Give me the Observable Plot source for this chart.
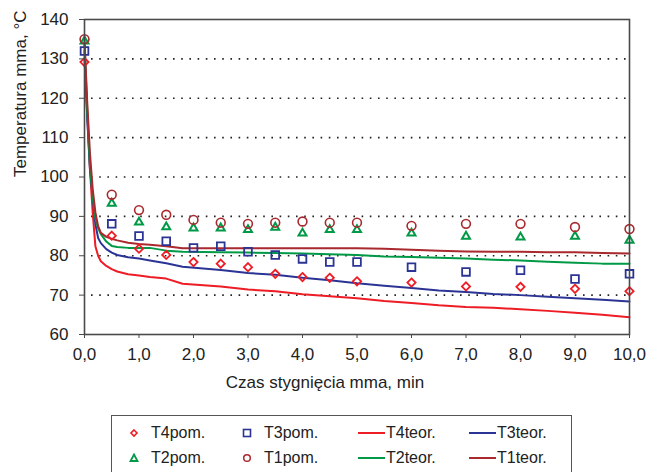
<!DOCTYPE html>
<html>
<head>
<meta charset="utf-8">
<script src="https://cdn.jsdelivr.net/npm/d3@7"></script>
<script src="https://cdn.jsdelivr.net/npm/@observablehq/plot@0.6"></script>
<style>
  html, body { margin: 0; padding: 0; background: #fff; overflow: hidden; }
  #wrap { position: relative; width: 651px; height: 472px; font-family: "Liberation Sans", Arial, sans-serif; }
  #legend { position: absolute; left: 111px; top: 415px; width: 461px; height: 80px; border: 1.3px solid #555; box-sizing: border-box; }
  .item { position: absolute; font-size: 16px; color: #222; display: flex; align-items: center; height: 20px; }
</style>
</head>
<body>
<div id="wrap"></div>
<script>
// Measured points (pom.)
const times = [0, 0.5, 1, 1.5, 2, 2.5, 3, 3.5, 4, 4.5, 5, 6, 7, 8, 9, 10];
const t1pom = [135, 95.5, 91.6, 90.4, 89.1, 88.4, 88.1, 88.4, 88.7, 88.4, 88.4, 87.6, 88.1, 88.1, 87.3, 86.8];
const t2pom = [134.5, 93.3, 88.5, 87.3, 87.0, 87.0, 86.6, 87.2, 85.7, 86.6, 86.6, 85.7, 84.9, 84.7, 84.9, 83.9];
const t3pom = [132, 88.1, 85.0, 83.7, 82.0, 82.4, 81.0, 80.2, 79.2, 78.4, 78.4, 77.1, 75.9, 76.3, 74.1, 75.4];
const t4pom = [129.2, 85.1, 81.8, 80.2, 78.4, 78.0, 77.1, 75.4, 74.6, 74.4, 73.5, 73.2, 72.2, 72.1, 71.6, 71.0];

// Theoretical curves (teor.)
const tGrid = [0, 0.05, 0.1, 0.15, 0.2, 0.25, 0.3, 0.4, 0.5, 0.6, 0.8, 1.0, 1.2, 1.5, 1.8, 2.5, 3.0, 3.5, 4.0, 4.5, 5.0, 5.5, 6.0, 6.5, 7.0, 7.5, 8.0, 8.5, 9.0, 9.5, 10.0];
const t1teor = [135, 119, 106, 97, 91, 87.5, 85.8, 84.8, 84.3, 83.9, 83.3, 83.0, 82.8, 82.4, 81.9, 81.9, 81.9, 81.9, 81.9, 81.9, 81.9, 81.8, 81.5, 81.3, 81.1, 81.0, 81.0, 80.9, 80.9, 80.7, 80.6];
const t2teor = [134, 117, 103, 95, 89.5, 87, 85.5, 83.6, 82.5, 82.2, 82.0, 82.0, 82.0, 81.3, 81.0, 80.9, 80.8, 80.7, 80.6, 80.4, 80.2, 79.8, 79.7, 79.5, 79.3, 79.0, 78.8, 78.5, 78.2, 78.0, 78.0];
const t3teor = [132, 115, 102, 95, 88, 84.5, 83.2, 81.7, 80.8, 80.2, 79.6, 79.3, 78.8, 78.1, 77.2, 76.4, 75.6, 75.2, 74.4, 73.8, 73.0, 72.4, 71.8, 71.2, 70.8, 70.3, 70.0, 69.6, 69.2, 68.8, 68.4];
const t4teor = [130, 116, 102, 91, 82.4, 80, 78.6, 77.4, 76.6, 76.0, 75.3, 75.0, 74.6, 74.2, 72.9, 72.2, 71.4, 71.0, 70.2, 69.7, 69.2, 68.5, 68.0, 67.4, 67.0, 66.8, 66.4, 66.0, 65.5, 65.0, 64.4];

const xTicks = [0, 1, 2, 3, 4, 5, 6, 7, 8, 9, 10];
const yTicks = [60, 70, 80, 90, 100, 110, 120, 130, 140];
const gridTicks = [70, 80, 90, 100, 110, 120, 130];
const xLabel = "Czas stygnięcia mma, min";
const yLabel = "Temperatura mma, °C";

const colors = { T1: "#a8292e", T2: "#009a47", T3: "#2b3494", T4: "#ee1c25" };

const pom = (arr) => times.map((t, i) => ({ t, v: arr[i] }));
const teor = (arr) => tGrid.map((t, i) => ({ t, v: arr[i] }));

const chart = Plot.plot({
  width: 651,
  height: 408,
  marginLeft: 84,
  marginRight: 22,
  marginTop: 19,
  marginBottom: 74,
  style: { fontFamily: "'Liberation Sans', Arial, sans-serif", fontSize: "17px", color: "#222", background: "#fff" },
  x: { domain: [0, 10] },
  y: { domain: [60, 140] },
  marks: [
    Plot.ruleY(gridTicks, { stroke: "#222", strokeWidth: 1.6, strokeDasharray: "1.6,6.6", strokeDashoffset: -7 }),
    Plot.line(teor(t4teor), { x: "t", y: "v", stroke: colors.T4, strokeWidth: 2 }),
    Plot.line(teor(t3teor), { x: "t", y: "v", stroke: colors.T3, strokeWidth: 2 }),
    Plot.line(teor(t2teor), { x: "t", y: "v", stroke: colors.T2, strokeWidth: 2 }),
    Plot.line(teor(t1teor), { x: "t", y: "v", stroke: colors.T1, strokeWidth: 2 }),
    Plot.dot(pom(t4pom), { x: "t", y: "v", symbol: "diamond2", r: 3.7, stroke: colors.T4, strokeWidth: 1.8, fill: "none" }),
    Plot.dot(pom(t3pom), { x: "t", y: "v", symbol: "square2", r: 4.9, stroke: colors.T3, strokeWidth: 1.8, fill: "none" }),
    Plot.dot(pom(t2pom), { x: "t", y: "v", symbol: "triangle2", r: 3.8, stroke: colors.T2, strokeWidth: 2, fill: "none" }),
    Plot.dot(pom(t1pom), { x: "t", y: "v", symbol: "circle", r: 4.4, stroke: colors.T1, strokeWidth: 1.6, fill: "none" }),
    Plot.frame({ stroke: "#4a4a4a", strokeWidth: 1.6 }),
    Plot.axisX(xTicks, { tickSize: 4, tickPadding: 9, tickFormat: (d) => d3.format(".1f")(d).replace(".", ","), label: null, stroke: "#4a4a4a", fontSize: 17 }),
    Plot.axisY(yTicks, { tickSize: 5, tickPadding: 11, tickFormat: (d) => String(d), label: null, stroke: "#4a4a4a", fontSize: 17 }),
    Plot.text([xLabel], { frameAnchor: "bottom", text: (d) => d, dx: -32, dy: 48, fontSize: 17, lineAnchor: "middle", fill: "#222" }),
    Plot.text([yLabel], { frameAnchor: "left", text: (d) => d, rotate: -90, dx: -64, fontSize: 17, lineAnchor: "middle", fill: "#222" })
  ]
});
document.getElementById("wrap").appendChild(chart);

// Legend (HTML)
const legend = document.createElement("div");
legend.id = "legend";
const legendItems = [
  { label: "T4pom.", kind: "diamond", color: colors.T4, col: 0, row: 0 },
  { label: "T3pom.", kind: "square", color: colors.T3, col: 1, row: 0 },
  { label: "T4teor.", kind: "line", color: colors.T4, col: 2, row: 0 },
  { label: "T3teor.", kind: "line", color: colors.T3, col: 3, row: 0 },
  { label: "T2pom.", kind: "triangle", color: colors.T2, col: 0, row: 1 },
  { label: "T1pom.", kind: "circle", color: colors.T1, col: 1, row: 1 },
  { label: "T2teor.", kind: "line", color: colors.T2, col: 2, row: 1 },
  { label: "T1teor.", kind: "line", color: colors.T1, col: 3, row: 1 }
];
const colLeft = [15, 128, 245, 356];
const rowTop = [7, 32];
for (const it of legendItems) {
  const el = document.createElement("div");
  el.className = "item";
  el.style.left = colLeft[it.col] + "px";
  el.style.top = rowTop[it.row] + "px";
  let svg;
  if (it.kind === "line") {
    svg = `<svg width="29" height="10"><line x1="1" x2="28" y1="5" y2="5" stroke="${it.color}" stroke-width="2"/></svg>`;
  } else {
    let shape = "";
    if (it.kind === "diamond") shape = `<path d="M7,2 L10,5 L7,8 L4,5 Z" fill="none" stroke="${it.color}" stroke-width="1.6"/>`;
    if (it.kind === "square") shape = `<rect x="3.5" y="1.5" width="7" height="7" fill="none" stroke="${it.color}" stroke-width="1.6"/>`;
    if (it.kind === "triangle") shape = `<path d="M7,1.5 L10.5,8 L3.5,8 Z" fill="none" stroke="${it.color}" stroke-width="1.8"/>`;
    if (it.kind === "circle") shape = `<circle cx="7" cy="5" r="3.3" fill="none" stroke="${it.color}" stroke-width="1.5"/>`;
    svg = `<svg width="14" height="10" style="margin-right:10px">${shape}</svg>`;
  }
  el.innerHTML = svg + `<span>${it.label}</span>`;
  legend.appendChild(el);
}
document.getElementById("wrap").appendChild(legend);
</script>
</body>
</html>
